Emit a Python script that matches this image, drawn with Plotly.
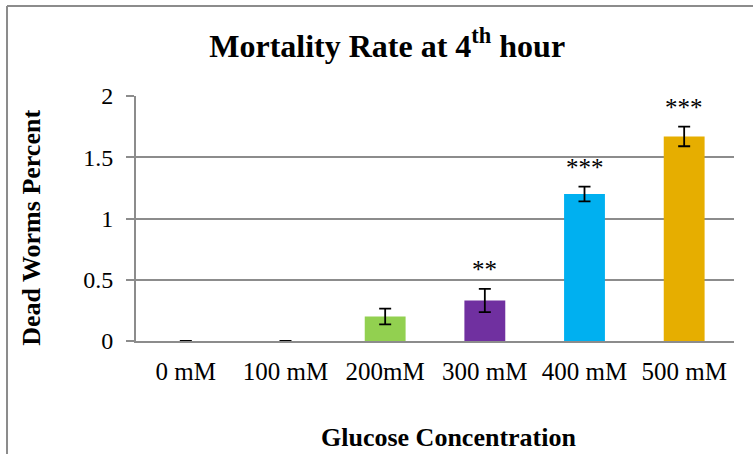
import plotly.graph_objects as go

categories = ["0 mM", "100 mM", "200mM", "300 mM", "400 mM", "500 mM"]
values = [0, 0, 0.20, 0.33, 1.20, 1.67]
errors = [0, 0, 0.065, 0.095, 0.06, 0.08]
colors = ["#92D050", "#92D050", "#92D050", "#7030A0", "#00B0F0", "#E6AE00"]
stars = ["", "", "", "**", "***", "***"]
ytickvals = [0, 0.5, 1, 1.5, 2]
yticktext = ["0", "0.5", "1", "1.5", "2"]

FONT = "Liberation Serif"

fig = go.Figure()
fig.add_trace(go.Bar(
    x=categories, y=values, width=0.41,
    marker=dict(color=colors, line=dict(width=0)),
    error_y=dict(type="data", array=errors, visible=True, color="black",
                 thickness=1.8, width=6),
    showlegend=False,
))

for c, v, e, s in zip(categories, values, errors, stars):
    if s:
        fig.add_annotation(x=c, y=v + e, text=s, showarrow=False,
                           yanchor="bottom", yshift=4,
                           font=dict(family=FONT, size=25, color="black"))

# axis titles
fig.add_annotation(xref="paper", yref="paper", x=0.522, y=-0.392,
                   text="<b>Glucose Concentration</b>", showarrow=False,
                   xanchor="center", yanchor="middle",
                   font=dict(family=FONT, size=26, color="black"))
fig.add_annotation(xref="paper", yref="paper", x=-0.176, y=0.461,
                   text="<b>Dead Worms Percent</b>", showarrow=False,
                   textangle=-90, xanchor="center", yanchor="middle",
                   font=dict(family=FONT, size=26, color="black"))

# outer chart frame (top and left visible)
fig.add_shape(type="line", xref="paper", yref="paper",
              x0=-0.2157, x1=1.1, y0=1.367, y1=1.367,
              line=dict(color="#8c8c8c", width=2))
fig.add_shape(type="line", xref="paper", yref="paper",
              x0=-0.2157, x1=-0.2157, y0=1.367, y1=-0.6,
              line=dict(color="#8c8c8c", width=2))

fig.update_layout(
    width=753, height=454,
    margin=dict(l=136, r=19, t=96, b=113),
    paper_bgcolor="white", plot_bgcolor="white",
    title=dict(text="<b>Mortality Rate at 4<sup>th</sup> hour</b>",
               xref="paper", x=0.42, xanchor="center",
               yref="container", y=0.90, yanchor="middle",
               font=dict(family=FONT, size=32, color="black")),
    font=dict(family=FONT, color="black"),
)
fig.update_xaxes(
    showline=True, linecolor="#8c8c8c", linewidth=2,
    ticks="", tickfont=dict(family=FONT, size=25, color="black"),
    ticklabelstandoff=7, showgrid=False,
)
fig.update_yaxes(
    range=[0, 2], tickvals=ytickvals, ticktext=yticktext,
    showline=True, linecolor="#8c8c8c", linewidth=2,
    ticks="outside", ticklen=8, tickcolor="#8c8c8c", tickwidth=2,
    showgrid=True, gridcolor="#8c8c8c", gridwidth=2,
    tickfont=dict(family=FONT, size=24, color="black"),
    ticklabelstandoff=8, zeroline=False,
)

fig.write_html("out.html", config={"displayModeBar": False},
               post_script="document.body.style.margin='0px';")
